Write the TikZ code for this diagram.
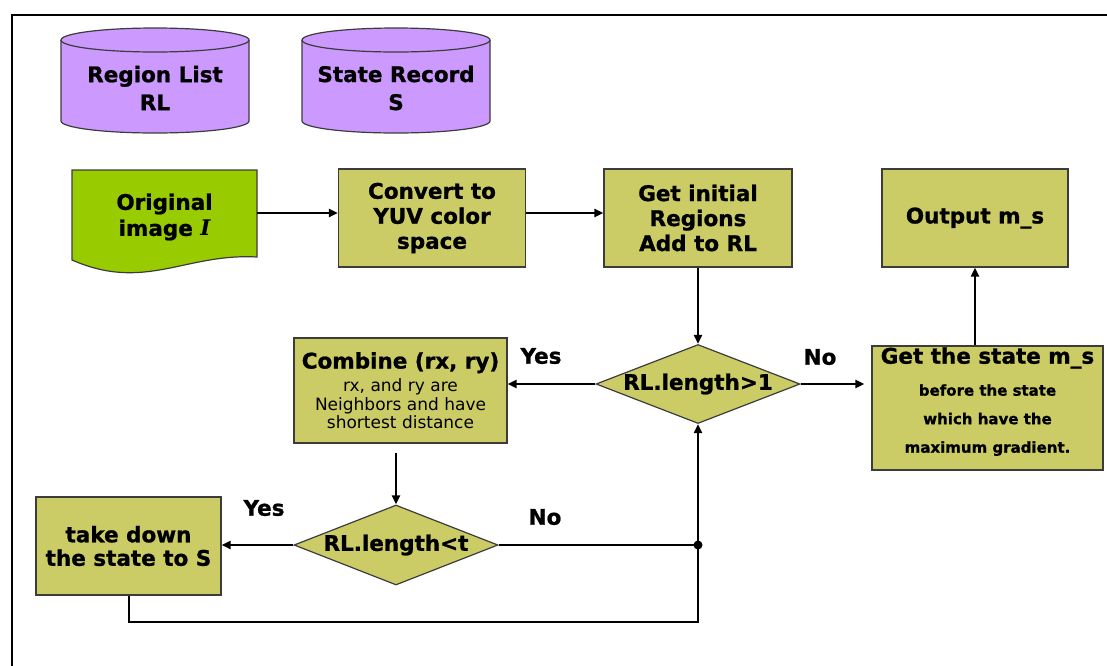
\documentclass[tikz,border=0pt]{standalone}
\usepackage{fontspec}
\setmainfont{DejaVu Sans}[BoldFeatures={FakeBold=1}]
\newfontfamily\serifit{DejaVu Serif}
\usetikzlibrary{shapes.geometric, arrows.meta}

\definecolor{boxfill}{RGB}{204,204,102}
\definecolor{cylfill}{RGB}{204,153,255}
\definecolor{docfill}{RGB}{153,204,0}
\definecolor{edge}{RGB}{60,60,60}

\newcommand\bigbold{\bfseries\fontsize{21.5}{25}\selectfont}
\newcommand\smalltext{\mdseries\fontsize{17}{18.5}\selectfont}
\newcommand\notetext{\bfseries\fontsize{15}{18}\selectfont}

% storage cylinder centred at x = #1 (top ellipse y=40, bottom ellipse y=121)
\newcommand\storecyl[1]{%
  \fill[cylfill] (#1-94,40) -- (#1-94,121)
    arc[start angle=180, end angle=0, x radius=94, y radius=12]
    -- (#1+94,40)
    arc[start angle=0, end angle=-180, x radius=94, y radius=12] -- cycle;
  \draw[edge, line width=1.2pt] (#1-94,40) -- (#1-94,121)
    arc[start angle=180, end angle=0, x radius=94, y radius=12]
    -- (#1+94,40);
  \draw[edge, line width=1.2pt] (#1,40) ellipse [x radius=94, y radius=12];
}

\tikzset{
  stepbox/.style={draw=edge, line width=1.2pt, fill=boxfill, inner sep=0pt,
    align=center, font=\bigbold},
  decision/.style={diamond, draw=edge, line width=1.2pt, fill=boxfill,
    inner sep=0pt, font=\bigbold},
  plaintext/.style={inner sep=0pt, align=center, font=\bigbold},
  lbl/.style={inner sep=0pt, font=\bigbold},
  conn/.style={line width=2pt},
  arr/.style={conn, -{Triangle[length=9pt, width=8pt]}},
}

\begin{document}
\begin{tikzpicture}[x=1pt, y=-1pt]
\useasboundingbox (0,0) rectangle (1107,665);
\fill[white] (0,0) rectangle (1107,665);

% outer frame
\draw[line width=2.5pt] (12,668) -- (12,15) -- (1110,15);

% data stores
\storecyl{155}
\storecyl{396}
\node[plaintext, font=\bfseries\fontsize{21.5}{28}\selectfont] (rl) at (155,88) {Region List\\RL};
\node[plaintext, font=\bfseries\fontsize{21.5}{28}\selectfont] (sr) at (396,88) {State Record\\S};

% input document
\fill[docfill] (72,170) -- (257,170) -- (257,257)
  .. controls (185,253) and (145,292) .. (72,260) -- cycle;
\draw[edge, line width=1.2pt] (72,170) -- (257,170) -- (257,257)
  .. controls (185,253) and (145,292) .. (72,260) -- cycle;
\node[plaintext, minimum width=185pt, minimum height=87pt, font=\bfseries\fontsize{21.5}{26}\selectfont]
  (orig) at (164.5,217) {Original\\image {\serifit\bfseries\itshape I}};

% process steps
\node[stepbox, minimum width=187pt, minimum height=98pt] (conv) at (432,218)
  {Convert to\\YUV color\\space};
\node[stepbox, minimum width=188pt, minimum height=98pt] (init) at (698,218)
  {Get initial\\Regions\\Add to RL};
\node[stepbox, minimum width=186pt, minimum height=98pt] (out) at (975,218)
  {Output m\_s};

\node[decision, minimum width=204pt, minimum height=79pt] (d1) at (698,384)
  {\makebox[0pt]{RL.length>1}};

\node[stepbox, minimum width=231pt, minimum height=124pt, text depth=16pt] (gs) at (987.5,408)
  {Get the state m\_s\\[7pt]
   {\notetext before the state}\\[3.5pt]
   {\notetext which have the}\\[3.5pt]
   {\notetext maximum gradient.}};

\node[stepbox, minimum width=213pt, minimum height=105pt] (comb) at (400.5,390.5)
  {Combine (rx, ry)\\[-2pt]
   {\smalltext rx, and ry are}\\[-6.5pt]
   {\smalltext Neighbors and have}\\[-6.5pt]
   {\smalltext shortest distance}};

\node[decision, minimum width=204pt, minimum height=80pt] (d2) at (396,545)
  {\makebox[0pt]{RL.length<t}};

\node[stepbox, minimum width=185pt, minimum height=98pt] (take) at (128.5,546)
  {take down\\[-1.5pt]the state to S};

% branch labels
\node[lbl] (yes1) at (541,356) {Yes};
\node[lbl] (no1) at (820,357) {No};
\node[lbl] (yes2) at (264,508) {Yes};
\node[lbl] (no2) at (545,517) {No};

% junction and loop corner
\coordinate (j) at (698,545);
\coordinate (lc) at (698,622);

% connectors
\draw[arr] (orig.east |- 0,213) -- (conv.west |- 0,213);
\draw[arr] ([yshift=5pt]conv.east) -- ([yshift=5pt]init.west);
\draw[arr] (init.south) -- (d1.north);
\draw[arr] (d1.west) -- (d1.west -| comb.east);
\draw[arr, shorten >=7pt] (d1.east) -- (d1.east -| gs.west);
\draw[arr] (out.south |- gs.north) -- (out.south);
\draw[arr, shorten <=9pt] (d2.north |- comb.south) -- (d2.north);
\draw[arr] (d2.west) -- (d2.west -| take.east);
\draw[conn] (d2.east) -- (j);
\draw[arr] (take.south) |- (lc) -- (d1.south);
\fill (j) circle (4.5pt);
\end{tikzpicture}
\end{document}
